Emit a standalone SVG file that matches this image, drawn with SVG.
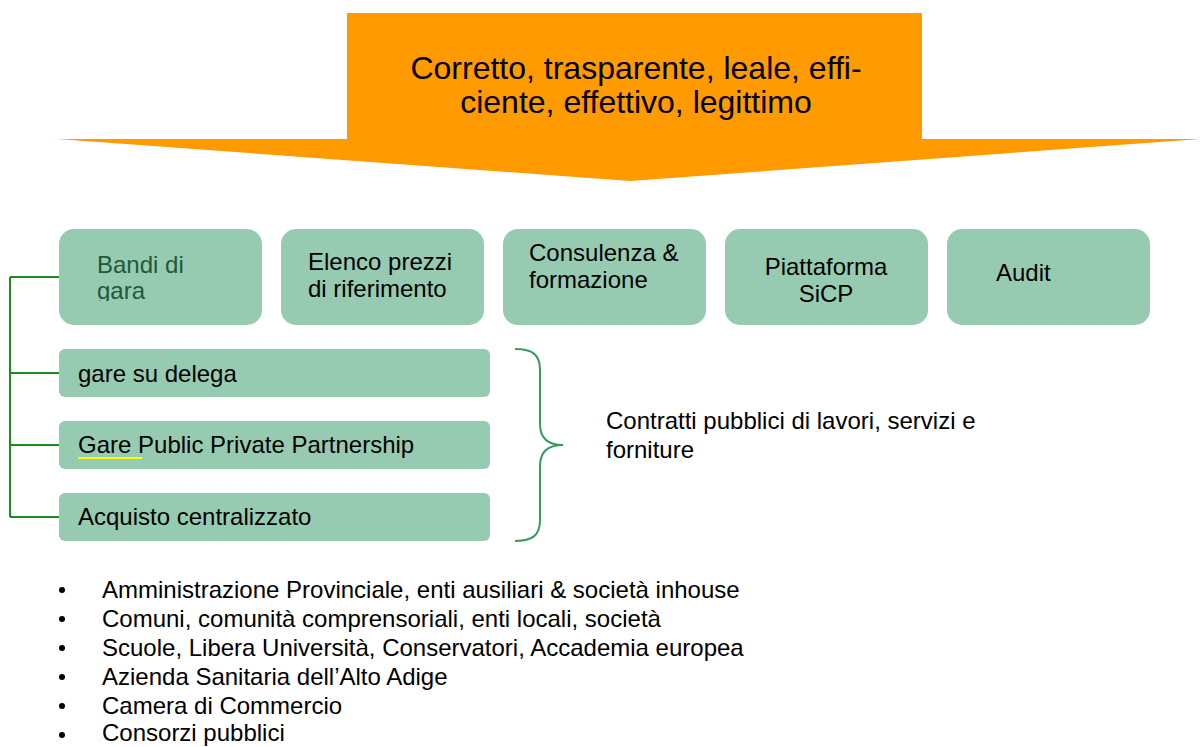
<svg xmlns="http://www.w3.org/2000/svg" width="1200" height="747" viewBox="0 0 1200 747">
<style>
text{font-family:"Liberation Sans",Arial,sans-serif;fill:#000}
.t{font-size:32px}
.b{font-size:24px}
.box{fill:#97CBB1}
.conn{stroke:#1E8C1E;stroke-width:2;fill:none}
.brace{stroke:#3A9A62;stroke-width:2;fill:none}
</style>
<defs>
<clipPath id="clipBandi"><rect x="59" y="230" width="203" height="71"/></clipPath>
</defs>
<rect width="1200" height="747" fill="#fff"/>
<g id="banner">
<polygon points="347,13 922,13 922,139 1200,139 630,181 57,139 347,139" fill="#FF9A00"/>
<text class="t" x="636" y="79" text-anchor="middle">Corretto, trasparente, leale, effi-</text>
<text class="t" x="636" y="113" text-anchor="middle">ciente, effettivo, legittimo</text>
</g>
<g id="connectors">
<path class="conn" d="M10,277 V517 M10,277 H59 M10,373 H59 M10,445 H59 M10,517 H59"/>
<path class="brace" d="M515,349 C533,349 540,355 540,370 L540,424 C540,438 547,445 563,445 C547,445 540,452 540,466 L540,520 C540,535 533,541 515,541"/>
</g>
<g id="bandi">
<rect class="box" x="59" y="229" width="203" height="96" rx="15"/>
<g clip-path="url(#clipBandi)">
<text class="b" x="97" y="273" style="fill:#1E5A3A">Bandi di</text>
<text class="b" x="97" y="299" style="fill:#1E5A3A">gara</text>
</g>
</g>
<g id="elenco">
<rect class="box" x="281" y="229" width="203" height="96" rx="15"/>
<text class="b" x="308" y="270">Elenco prezzi</text>
<text class="b" x="308" y="297">di riferimento</text>
</g>
<g id="consulenza">
<rect class="box" x="503" y="229" width="203" height="96" rx="15"/>
<text class="b" x="529" y="261">Consulenza &amp;</text>
<text class="b" x="529" y="288">formazione</text>
</g>
<g id="piattaforma">
<rect class="box" x="725" y="229" width="203" height="96" rx="15"/>
<text class="b" x="826" y="275" text-anchor="middle">Piattaforma</text>
<text class="b" x="826" y="302" text-anchor="middle">SiCP</text>
</g>
<g id="audit">
<rect class="box" x="947" y="229" width="203" height="96" rx="15"/>
<text class="b" x="996" y="281">Audit</text>
</g>
<g id="delega">
<rect class="box" x="59" y="349" width="431" height="48" rx="6"/>
<text class="b" x="78" y="382">gare su delega</text>
</g>
<g id="ppp">
<rect class="box" x="59" y="421" width="431" height="48" rx="6"/>
<text class="b" x="78" y="453">Gare Public Private Partnership</text>
<line x1="78" y1="458" x2="142" y2="458" stroke="#FFFF00" stroke-width="2"/>
</g>
<g id="acquisto">
<rect class="box" x="59" y="493" width="431" height="48" rx="6"/>
<text class="b" x="78" y="525">Acquisto centralizzato</text>
</g>
<g id="contratti">
<text class="b" x="606" y="429">Contratti pubblici di lavori, servizi e</text>
<text class="b" x="606" y="458">forniture</text>
</g>
<g id="list">
<circle cx="62" cy="590" r="3"/>
<circle cx="62" cy="619" r="3"/>
<circle cx="62" cy="648" r="3"/>
<circle cx="62" cy="677" r="3"/>
<circle cx="62" cy="706" r="3"/>
<circle cx="62" cy="735" r="3"/>
<text class="b" x="102" y="598">Amministrazione Provinciale, enti ausiliari &amp; società inhouse</text>
<text class="b" x="102" y="627">Comuni, comunità comprensoriali, enti locali, società</text>
<text class="b" x="102" y="656">Scuole, Libera Università, Conservatori, Accademia europea</text>
<text class="b" x="102" y="685">Azienda Sanitaria dell’Alto Adige</text>
<text class="b" x="102" y="714">Camera di Commercio</text>
<text class="b" x="102" y="741">Consorzi pubblici</text>
</g>
</svg>
